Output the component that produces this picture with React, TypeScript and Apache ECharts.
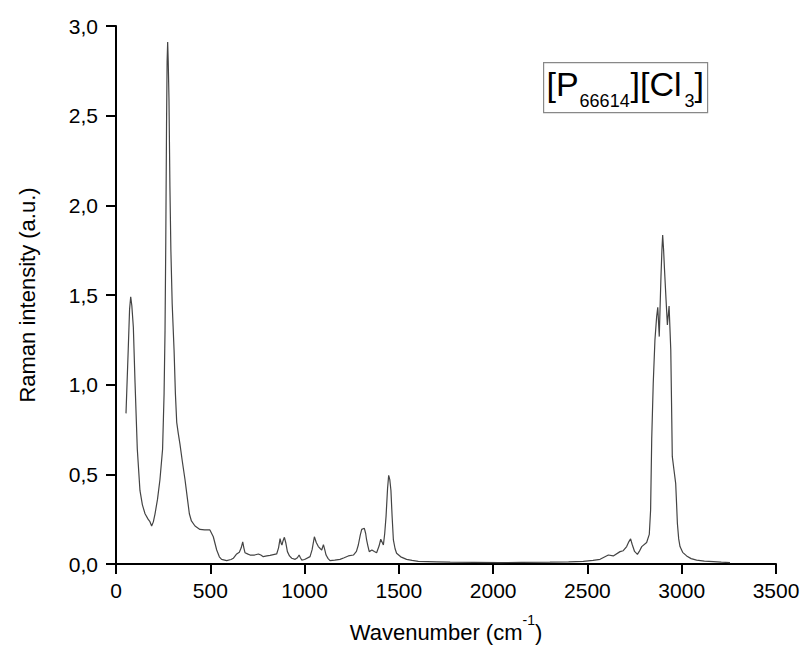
import React, { useEffect, useRef } from "react";
import * as echarts from "echarts";

const wavenumbers: number[] = [
  53, 65, 72, 78, 84, 92, 101, 113, 127, 140, 154, 170, 180, 189, 198, 207, 220, 233, 247, 255,
  260, 264, 268, 271, 274, 277, 281, 286, 291, 298, 308, 315, 322, 330, 339, 352, 366, 378, 389, 400,
  419, 445, 470, 498, 516, 534, 548, 560, 587, 610, 622, 640, 654, 664, 672, 678, 684, 700, 711, 735,
  755, 768, 781, 800, 817, 852, 862, 870, 876, 880, 886, 893, 900, 909, 920, 932, 950, 962, 971, 978,
  985, 1000, 1029, 1040, 1052, 1062, 1073, 1084, 1091, 1100, 1107, 1114, 1125, 1135, 1160, 1188, 1210, 1232, 1259, 1275,
  1285, 1295, 1303, 1317, 1324, 1329, 1336, 1343, 1357, 1370, 1382, 1395, 1404, 1412, 1418, 1425, 1432, 1440, 1446, 1452,
  1458, 1464, 1471, 1480, 1488, 1510, 1541, 1570, 1603, 1700, 1772, 1900, 2036, 2150, 2301, 2400, 2478, 2530, 2567, 2611,
  2637, 2673, 2690, 2708, 2720, 2729, 2737, 2750, 2765, 2775, 2788, 2814, 2828, 2835, 2841, 2849, 2858, 2867, 2873, 2877,
  2881, 2885, 2890, 2895, 2899, 2904, 2908, 2917, 2924, 2928, 2933, 2937, 2942, 2946, 2950, 2959, 2968, 2973, 2977, 2984,
  2991, 3005, 3026, 3050, 3079, 3120, 3168, 3210, 3256,
];

const intensities: number[] = [
  0.84, 1.2, 1.42, 1.49, 1.44, 1.32, 1.01, 0.64, 0.41, 0.33, 0.28, 0.25, 0.236, 0.212, 0.235, 0.28, 0.36, 0.47, 0.64, 0.95,
  1.3, 1.8, 2.45, 2.8, 2.91, 2.8, 2.59, 2.1, 1.75, 1.45, 1.19, 0.95, 0.79, 0.73, 0.67, 0.57, 0.47, 0.37, 0.28, 0.24,
  0.212, 0.193, 0.19, 0.19, 0.152, 0.078, 0.04, 0.026, 0.019, 0.025, 0.032, 0.056, 0.066, 0.09, 0.123, 0.09, 0.063, 0.055, 0.05, 0.05,
  0.056, 0.05, 0.041, 0.045, 0.048, 0.056, 0.09, 0.141, 0.115, 0.106, 0.13, 0.149, 0.12, 0.069, 0.045, 0.032, 0.026, 0.035, 0.05, 0.035,
  0.022, 0.025, 0.041, 0.08, 0.152, 0.12, 0.097, 0.085, 0.078, 0.108, 0.08, 0.05, 0.03, 0.019, 0.022, 0.026, 0.035, 0.045, 0.05, 0.07,
  0.106, 0.16, 0.193, 0.199, 0.17, 0.134, 0.1, 0.069, 0.078, 0.07, 0.063, 0.1, 0.138, 0.12, 0.106, 0.17, 0.264, 0.42, 0.494, 0.47,
  0.41, 0.27, 0.134, 0.085, 0.06, 0.04, 0.026, 0.02, 0.015, 0.012, 0.01, 0.009, 0.008, 0.009, 0.01, 0.012, 0.015, 0.02, 0.026, 0.05,
  0.045, 0.069, 0.074, 0.097, 0.125, 0.14, 0.11, 0.07, 0.054, 0.07, 0.097, 0.12, 0.165, 0.3, 0.7, 1.008, 1.249, 1.379, 1.431, 1.35,
  1.268, 1.42, 1.602, 1.75, 1.835, 1.75, 1.658, 1.472, 1.333, 1.38, 1.439, 1.33, 1.193, 0.9, 0.6, 0.524, 0.45, 0.33, 0.227, 0.14,
  0.097, 0.065, 0.045, 0.03, 0.022, 0.016, 0.013, 0.01, 0.008,
];

const xTitle = "Wavenumber (cm";
const xTitleSup = "-1";
const yTitle = "Raman intensity (a.u.)";
const labelParts = ["[P", "66614", "][Cl", "3", "]"];

const FONT = "'Liberation Sans', Arial, sans-serif";

export default function App() {
  const ref = useRef<HTMLDivElement>(null);
  useEffect(() => {
    if (!ref.current) return;
    const chart = echarts.init(ref.current, undefined, { renderer: "svg" });
    const data = wavenumbers.map((w, i) => [w, intensities[i]]);
    chart.setOption({
      animation: false,
      backgroundColor: "#ffffff",
      grid: { left: 116, right: 30, top: 26, bottom: 88, containLabel: false },
      xAxis: {
        type: "value",
        min: 0,
        max: 3500,
        interval: 500,
        name: `{b|${xTitle}}{s|${xTitleSup}}{b|)}`,
        nameLocation: "middle",
        nameGap: 49,
        nameTextStyle: {
          fontFamily: FONT,
          color: "#000",
          rich: {
            b: { fontSize: 22, fontFamily: FONT, color: "#000", lineHeight: 30, verticalAlign: "bottom" },
            s: { fontSize: 14, fontFamily: FONT, color: "#000", lineHeight: 14, verticalAlign: "top" },
          },
        },
        axisLine: { show: true, onZero: false, lineStyle: { color: "#000", width: 2 } },
        axisTick: { show: true, inside: false, length: 10, lineStyle: { color: "#000", width: 2 } },
        axisLabel: {
          show: true,
          margin: 16,
          fontSize: 21,
          fontFamily: FONT,
          color: "#000",
          formatter: (v: number) => String(v),
        },
        splitLine: { show: false },
      },
      yAxis: {
        type: "value",
        min: 0,
        max: 3,
        interval: 0.5,
        name: yTitle,
        nameLocation: "middle",
        nameRotate: 90,
        nameGap: 78,
        nameTextStyle: { fontSize: 22, fontFamily: FONT, color: "#000" },
        axisLine: { show: true, onZero: false, lineStyle: { color: "#000", width: 2 } },
        axisTick: { show: true, inside: false, length: 10, lineStyle: { color: "#000", width: 2 } },
        axisLabel: {
          show: true,
          margin: 18,
          fontSize: 21,
          fontFamily: FONT,
          color: "#000",
          formatter: (v: number) => v.toFixed(1).replace(".", ","),
        },
        splitLine: { show: false },
      },
      graphic: [
        {
          type: "group",
          left: 543,
          top: 62,
          children: [
            {
              type: "rect",
              shape: { x: 0, y: 0, width: 164, height: 50 },
              style: { fill: "#fff", stroke: "#888", lineWidth: 1.2 },
            },
            { type: "text", x: 3, y: 21, style: { text: labelParts[0], fontSize: 34, fontFamily: FONT, fill: "#000", verticalAlign: "middle" } },
            { type: "text", x: 36, y: 38, style: { text: labelParts[1], fontSize: 18, fontFamily: FONT, fill: "#000", verticalAlign: "middle" } },
            { type: "text", x: 87, y: 21, style: { text: labelParts[2], fontSize: 34, fontFamily: FONT, fill: "#000", verticalAlign: "middle" } },
            { type: "text", x: 141, y: 38, style: { text: labelParts[3], fontSize: 18, fontFamily: FONT, fill: "#000", verticalAlign: "middle" } },
            { type: "text", x: 151, y: 21, style: { text: labelParts[4], fontSize: 34, fontFamily: FONT, fill: "#000", verticalAlign: "middle" } },
          ],
        },
      ],
      series: [
        {
          type: "line",
          data,
          showSymbol: false,
          smooth: false,
          lineStyle: { color: "#444", width: 1.2 },
          z: 3,
        },
      ],
    });
    return () => chart.dispose();
  }, []);
  return (
    <div
      ref={ref}
      style={{ position: "fixed", left: 0, top: 0, width: 806, height: 652, background: "#fff" }}
    />
  );
}
